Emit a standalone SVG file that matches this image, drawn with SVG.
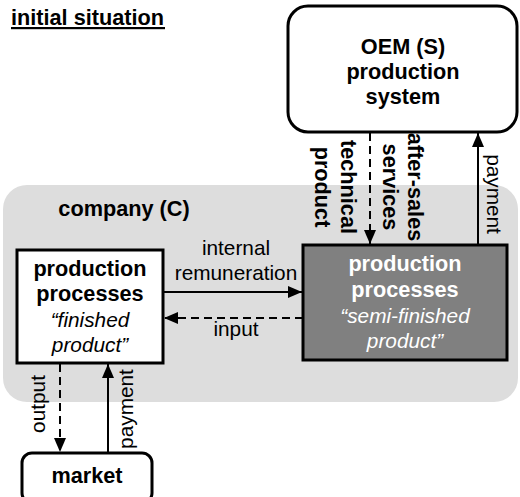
<svg xmlns="http://www.w3.org/2000/svg" width="520" height="497" viewBox="0 0 520 497">
<style>
text{font-family:"Liberation Sans",Arial,sans-serif;font-size:20.8px;fill:#000}
.b{font-weight:bold;font-size:21.7px}
.i{font-style:italic}
.w{fill:#fff}
.m{text-anchor:middle}
.c{stroke:#000;stroke-width:2;fill:none}
.d{stroke-dasharray:8,5}
.box{stroke:#000;stroke-width:3}
</style>
<defs>
<marker id="ah" viewBox="0 0 14 12" refX="14" refY="6" markerWidth="14" markerHeight="12" markerUnits="userSpaceOnUse" orient="auto">
<path d="M0,0 L14,6 L0,12 Z" fill="#000"/>
</marker>
</defs>
<g id="title">
<text class="b" x="11" y="25">initial situation</text>
<rect x="11" y="27" width="154" height="2.2" fill="#000"/>
</g>
<g id="company">
<rect x="3" y="185" width="515" height="217" rx="24" fill="#dddddd"/>
<text class="b m" x="124" y="216">company (C)</text>
</g>
<g id="oem">
<rect class="box" x="288" y="6" width="229" height="126" rx="20" fill="#fff"/>
<text class="b m" x="403" y="54">OEM (S)</text>
<text class="b m" x="403" y="79">production</text>
<text class="b m" x="403" y="104">system</text>
</g>
<g id="finished">
<rect class="box" x="17" y="250" width="146" height="113" fill="#fff"/>
<text class="b m" x="90" y="276">production</text>
<text class="b m" x="90" y="301">processes</text>
<text class="i m" x="90" y="327">“finished</text>
<text class="i m" x="90" y="352">product”</text>
</g>
<g id="semi">
<rect class="box" x="303" y="245" width="204" height="115" fill="#808080"/>
<text class="b m w" x="405" y="271">production</text>
<text class="b m w" x="405" y="297">processes</text>
<text class="i m w" x="405" y="323">“semi-finished</text>
<text class="i m w" x="405" y="348">product”</text>
</g>
<g id="market">
<rect class="box" x="22" y="453" width="130" height="50" rx="10" fill="#fff"/>
<text class="b m" x="87" y="483">market</text>
</g>
<g id="connectors">
<line class="c" x1="163" y1="292" x2="302" y2="292" marker-end="url(#ah)"/>
<line class="c d" x1="303" y1="318" x2="164" y2="318" marker-end="url(#ah)"/>
<line class="c d" x1="370" y1="133" x2="370" y2="244" marker-end="url(#ah)"/>
<line class="c" x1="478" y1="245" x2="478" y2="133" marker-end="url(#ah)"/>
<line class="c d" x1="60" y1="364" x2="60" y2="452" marker-end="url(#ah)"/>
<line class="c" x1="108" y1="453" x2="108" y2="364" marker-end="url(#ah)"/>
</g>
<g id="labels">
<text class="m" x="236" y="255">internal</text>
<text class="m" x="236" y="280">remuneration</text>
<text class="m" x="236" y="336">input</text>
<text class="b m" transform="translate(315,187) rotate(90)">product</text>
<text class="b m" transform="translate(341,187) rotate(90)">technical</text>
<text class="b m" transform="translate(383,187) rotate(90)">services</text>
<text class="b m" transform="translate(408,187) rotate(90)">after-sales</text>
<text class="m" transform="translate(487,194) rotate(90)">payment</text>
<text class="m" transform="translate(45,404) rotate(-90)">output</text>
<text class="m" transform="translate(133,409) rotate(-90)">payment</text>
</g>
</svg>
